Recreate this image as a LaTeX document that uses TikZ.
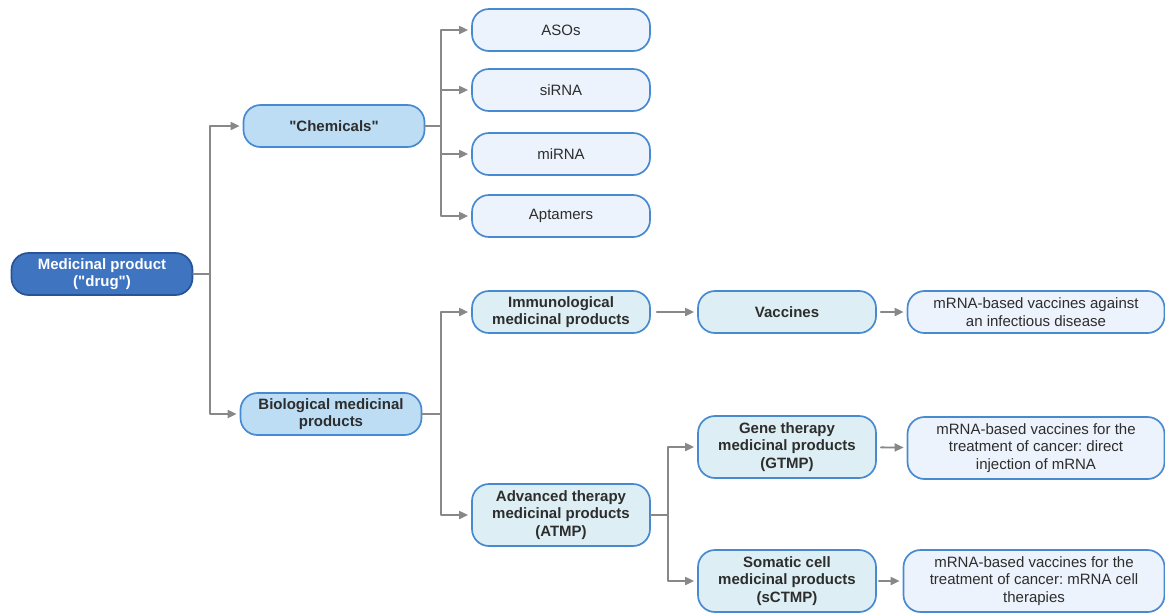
\documentclass[tikz,border=0pt]{standalone}
\usepackage{fontspec}
\setmainfont{Liberation Sans}
\frenchspacing
\usetikzlibrary{arrows.meta,positioning}
\definecolor{drugblue}{RGB}{62,116,192}
\definecolor{drugedge}{RGB}{38,84,150}
\definecolor{groupfill}{RGB}{188,221,244}
\definecolor{classfill}{RGB}{221,239,244}
\definecolor{leaffill}{RGB}{237,243,252}
\definecolor{boxedge}{RGB}{72,138,208}
\definecolor{linkgrey}{RGB}{136,136,136}
\definecolor{textgrey}{RGB}{45,45,45}

\begin{document}
\begin{tikzpicture}[x=1pt,y=-1pt,>={Triangle[length=9pt,width=8pt]},line cap=round,line join=round,
 basebox/.style={draw=boxedge,line width=1.7pt,rounded corners=17pt,align=center,
  minimum width=178pt,minimum height=42pt,inner sep=2pt,
  font=\fontsize{15}{17.5}\selectfont,text=textgrey},
 rootbox/.style={basebox,fill=drugblue,draw=drugedge,text=white,minimum width=181pt,
  font=\fontsize{15}{17.5}\selectfont\bfseries},
 groupbox/.style={basebox,fill=groupfill,minimum width=181pt,
  font=\fontsize{15}{17.5}\selectfont\bfseries},
 classbox/.style={basebox,fill=classfill,font=\fontsize{15}{17.5}\selectfont\bfseries},
 leafbox/.style={basebox,fill=leaffill},
 link/.style={->,draw=linkgrey,line width=1.8pt,shorten >=3pt}]
 \useasboundingbox (0,0) rectangle (1165,614);
 \node[rootbox] (drug) at (102,274) {Medicinal product\\(\textquotedbl drug\textquotedbl)};
 \node[groupbox] (chem) at (334,126) {\textquotedbl Chemicals\textquotedbl};
 \node[groupbox] (bio) at (331,414) {Biological medicinal\\products};
 % chemicals
 \node[leafbox] (asos) at (561,30) {ASOs};
 \node[leafbox] (sirna) at (561,90) {siRNA};
 \node[leafbox] (mirna) at (561,154) {miRNA};
 \node[leafbox] (apt) at (561,216) {Aptamers};
 % biologicals
 \node[classbox] (immuno) at (561,312) {Immunological\\medicinal products};
 \node[classbox] (vacc) at (787,312) {Vaccines};
 \node[leafbox,minimum width=257pt] (infect) at (1036,312)
  {mRNA-based vaccines against\\an infectious disease};
 \node[classbox,minimum height=62pt] (atmp) at (561,515)
  {Advanced therapy\\medicinal products\\(ATMP)};
 \node[classbox,minimum height=62pt] (gtmp) at (787,447)
  {Gene therapy\\medicinal products\\(GTMP)};
 \node[classbox,minimum height=62pt] (sctmp) at (787,581)
  {Somatic cell\\medicinal products\\(sCTMP)};
 \node[leafbox,minimum width=257pt,minimum height=62pt] (direct) at (1036,448)
  {mRNA-based vaccines for the\\treatment of cancer: direct\\injection of mRNA};
 \node[leafbox,minimum width=261pt,minimum height=62pt] (cell) at (1034,581)
  {mRNA-based vaccines for the\\treatment of cancer: mRNA cell\\therapies};
 % connectors
 \draw[link] (drug.east) -- ++(17,0) |- (chem.west);
 \draw[link] (drug.east) -- ++(17,0) |- (bio.west);
 \foreach \leaf in {asos,sirna,mirna,apt}
  \draw[link] (chem.east) -- ++(16,0) |- (\leaf.west);
 \draw[link] (bio.east) -- ++(19,0) |- (immuno.west);
 \draw[link] (bio.east) -- ++(19,0) |- (atmp.west);
 \draw[link] (atmp.east) -- ++(17,0) |- (gtmp.west);
 \draw[link] (atmp.east) -- ++(17,0) |- (sctmp.west);
 \draw[link,shorten <=6pt] (immuno) -- (vacc);
 \draw[link,shorten <=4pt] (vacc) -- (infect);
 \draw[link,shorten <=4pt] (gtmp) -- (direct);
 \draw[link,shorten <=2pt] (sctmp) -- (cell);
\end{tikzpicture}
\end{document}
